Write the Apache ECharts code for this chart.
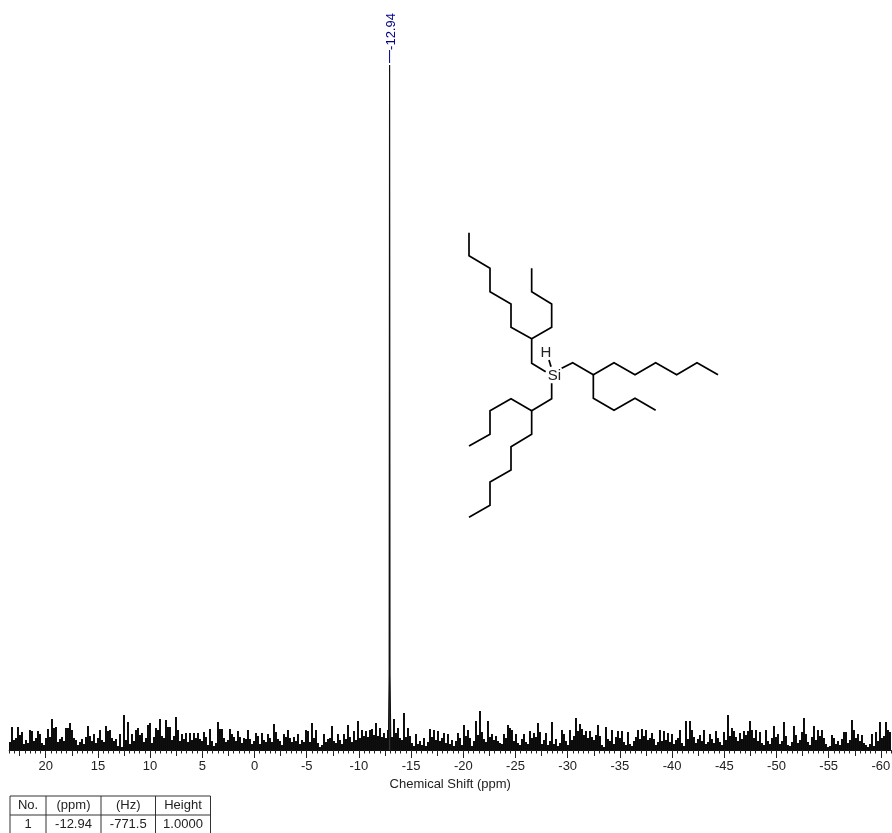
<!DOCTYPE html>
<html><head><meta charset="utf-8">
<style>html,body{margin:0;padding:0;background:#fff}#c{width:892px;height:833px}</style>
<script src="https://cdn.jsdelivr.net/npm/echarts@6/dist/echarts.min.js"></script>
</head><body><div id="c"></div>
<script>
const tickLabels=[20,15,10,5,0,-5,-10,-15,-20,-25,-30,-35,-40,-45,-50,-55,-60];
const axisTitle='Chemical Shift (ppm)';
const noiseStartPpm=23.42, noiseStepPpm=-0.19157;
const noiseHeights=[
8,23,10,12,23,15,18,6,10,7,
20,19,9,12,19,16,7,5,12,21,
13,31,22,23,8,11,13,9,22,22,
27,20,12,10,5,8,11,6,13,24,
14,9,16,7,12,20,10,8,24,19,
20,12,9,11,4,16,3,35,10,28,
6,16,9,20,22,15,17,8,12,25,
27,7,13,22,20,31,14,12,30,23,
23,10,14,33,20,9,16,11,17,8,
17,10,17,12,17,11,9,18,13,5,
21,9,4,7,28,21,21,12,8,10,
21,16,13,9,19,13,7,12,11,20,
11,6,9,17,14,6,17,10,8,16,
12,8,26,18,11,9,5,16,13,20,
12,8,13,9,16,6,10,8,20,19,
8,27,12,20,7,3,5,16,8,11,
12,24,9,7,16,10,6,16,11,25,
13,8,19,10,29,12,20,14,19,13,
20,21,15,27,14,22,13,17,12,20,
18,13,31,17,22,12,10,37,13,22,
14,7,4,16,6,9,5,12,4,8,
21,13,20,10,19,9,12,17,7,16,
6,10,4,9,17,12,5,25,14,20,
12,4,9,29,15,39,18,11,8,29,
13,16,10,14,9,7,6,16,12,25,
22,20,9,16,7,5,11,16,8,6,
19,12,17,13,27,18,6,10,17,5,
9,28,6,11,4,7,20,16,9,5,
20,10,14,32,19,26,21,15,19,12,
19,13,10,15,25,14,5,3,23,11,
9,20,6,13,19,12,19,8,5,18,
6,4,9,13,20,11,21,14,20,10,
12,17,11,5,8,20,9,19,10,17,
8,16,6,10,12,20,7,4,29,11,
29,20,13,7,11,15,9,20,6,8,
16,11,7,19,12,8,5,18,10,35,
14,22,19,13,9,17,11,19,15,19,
29,20,12,20,9,18,7,5,20,9,
6,12,24,13,16,6,9,28,14,5,
4,8,24,15,7,10,18,32,16,8,
5,13,24,10,20,14,20,12,6,3,
4,15,12,6,9,5,11,18,18,7,
10,30,20,12,16,9,15,7,5,3,
6,16,4,18,9,28,12,14,28,20,
18];
const peakShifts=[-12.82,-12.90,-12.94,-12.98,-13.06];
const peakHeights=[0,75,685,75,0];
const peakLabelPpm=-12.94, peakLabel='-12.94';
const peakMarkerHeights=[687,700];
const tableHeader=['No.','(ppm)','(Hz)','Height'];
const tableRow=['1','-12.94','-771.5','1.0000'];
const moleculeChains=[
 [[57,38],[57,107],[120,145],[120,215],[183,252],[183,322],[245,356],[245,430],[287,455]],
 [[245,356],[305,322],[305,252],[245,215],[245,145]],
 [[335,445],[368,428],[430,464],[492,428],[555,464],[617,428],[680,464],[741,428],[804,464]],
 [[430,464],[430,535],[492,571],[555,535],[617,571]],
 [[305,490],[305,536],[245,572],[183,536],[120,572],[120,643],[57,678]],
 [[245,572],[245,643],[183,680],[183,750],[120,786],[120,856],[57,892]],
 [[297,420],[303,440]]
];
const font='"Liberation Sans", Arial, sans-serif';
const noiseData=noiseHeights.map((h,i)=>[noiseStartPpm+i*noiseStepPpm,h]);
const peakData=peakShifts.map((p,i)=>[p,peakHeights[i]]);
const midTicks=[],minorTicks=[];
for(let v=-60;v<=22.5;v+=2.5)midTicks.push(v);
for(let v=-61;v<=23.5;v+=0.5)minorTicks.push(v);
const xBase={type:'value',min:-61,max:23.5,inverse:true,position:'bottom',splitLine:{show:false},silent:true};
const mol=([x,y])=>[450+x/3,220+y/3];
const graphics=moleculeChains.map(c=>({type:'polyline',shape:{points:c.map(mol)},style:{stroke:'#000',lineWidth:1.7,fill:null,lineJoin:'miter'}}));
graphics.push({type:'text',x:546,y:353,style:{text:'H',font:'15px '+font,fill:'#222',textAlign:'center',textVerticalAlign:'middle'}});
graphics.push({type:'text',x:554.5,y:376,style:{text:'Si',font:'15px '+font,fill:'#222',textAlign:'center',textVerticalAlign:'middle'}});
const colX=[10,46,101,155.5,210.5], rowY=[796,815,833];
const tableStyle={stroke:'#333',lineWidth:1};
colX.forEach(x=>graphics.push({type:'line',shape:{x1:x,y1:796,x2:x,y2:833},style:tableStyle}));
[796,815].forEach(y=>graphics.push({type:'line',shape:{x1:10,y1:y,x2:210.5,y2:y},style:tableStyle}));
[tableHeader,tableRow].forEach((row,r)=>row.forEach((t,c)=>graphics.push({type:'text',x:(colX[c]+colX[c+1])/2,y:rowY[r]+9.5,style:{text:t,font:'13px '+font,fill:'#222',textAlign:'center',textVerticalAlign:'middle'}})));
const chart=echarts.init(document.getElementById('c'),null,{renderer:'canvas'});
chart.setOption({
 animation:false,backgroundColor:'#fff',
 grid:{left:9.16,right:0.66,top:0,bottom:83,outerBoundsMode:'none',containLabel:false},
 xAxis:[
  {...xBase,axisLine:{show:true,lineStyle:{color:'#111',width:1}},axisLabel:{show:true,customValues:tickLabels,formatter:v=>String(v),color:'#222',fontFamily:font,fontSize:13,margin:10},
   axisTick:{show:true,length:8,lineStyle:{color:'#222'},customValues:tickLabels},
   name:axisTitle,nameLocation:'middle',nameGap:22,nameTextStyle:{color:'#222',fontFamily:font,fontSize:13}},
  {...xBase,axisLine:{show:false},axisLabel:{show:false},axisTick:{show:true,length:6,lineStyle:{color:'#222'},customValues:midTicks}},
  {...xBase,axisLine:{show:false},axisLabel:{show:false},axisTick:{show:true,length:3.5,lineStyle:{color:'#222'},customValues:minorTicks}}
 ],
 yAxis:{type:'value',min:0,max:750,show:false},
 series:[
  {type:'bar',name:'noise',data:noiseData,barWidth:1.9,large:false,itemStyle:{color:'#000'},silent:true},
  {type:'line',name:'peak',data:peakData,showSymbol:false,symbol:'none',lineStyle:{color:'#111',width:1.2},areaStyle:{color:'#333',opacity:1},silent:true},
  {type:'line',name:'marker',data:peakMarkerHeights.map(h=>[peakLabelPpm,h]),showSymbol:false,symbol:'none',lineStyle:{color:'#00008b',width:1},silent:true},
  {type:'scatter',name:'label',data:[[peakLabelPpm,702]],symbolSize:1,itemStyle:{color:'#00008b',opacity:0},silent:true,
   label:{show:true,position:'top',distance:0,offset:[16,8],rotate:90,formatter:peakLabel,color:'#00008b',fontFamily:font,fontSize:13,opacity:1}}
 ],
 graphic:{elements:graphics}
});
</script></body></html>
